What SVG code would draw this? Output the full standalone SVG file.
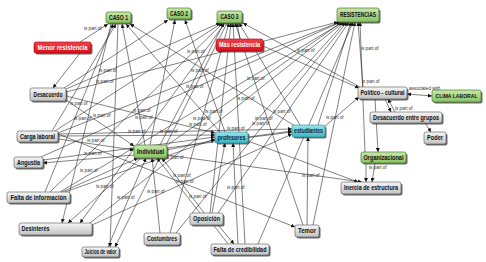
<svg xmlns="http://www.w3.org/2000/svg" width="486" height="262" viewBox="0 0 486 262">
<defs>
<linearGradient id="gGray" x1="0" y1="0" x2="0" y2="1"><stop offset="0" stop-color="#f6f6f6"/><stop offset="1" stop-color="#c2c2c2"/></linearGradient>
<linearGradient id="gGreen" x1="0" y1="0" x2="0" y2="1"><stop offset="0" stop-color="#c8e8ac"/><stop offset="1" stop-color="#86c262"/></linearGradient>
<linearGradient id="gRed" x1="0" y1="0" x2="0" y2="1"><stop offset="0" stop-color="#f2404a"/><stop offset="1" stop-color="#d8101c"/></linearGradient>
<linearGradient id="gCyan" x1="0" y1="0" x2="0" y2="1"><stop offset="0" stop-color="#9ae4ea"/><stop offset="1" stop-color="#3cb6c2"/></linearGradient>
<marker id="a" viewBox="0 0 6 6" refX="6" refY="3" markerWidth="4" markerHeight="4" markerUnits="userSpaceOnUse" orient="auto"><path d="M0,0L6,3L0,6z" fill="#111"/></marker>
<marker id="s" viewBox="0 0 6 6" refX="0" refY="3" markerWidth="4" markerHeight="4" markerUnits="userSpaceOnUse" orient="auto"><path d="M6,0L0,3L6,6z" fill="#111"/></marker>
</defs>
<style>
.e line{stroke:#1a1a1a;stroke-width:0.55;marker-end:url(#a)}
.lbl text{font-family:"Liberation Sans",Arial,sans-serif;font-size:4.6px;fill:#333}
.node .sh{fill:#3a3a3a;opacity:0.75}
.node text{font-family:"Liberation Sans",Arial,sans-serif;font-weight:bold;font-size:6.5px;text-anchor:middle;fill:#111}
.gray .bx{fill:url(#gGray);stroke:#555;stroke-width:0.6}
.green .bx{fill:url(#gGreen);stroke:#4a7a2a;stroke-width:0.7}
.red .bx{fill:url(#gRed);stroke:#a00010;stroke-width:0.6}
.red text{fill:#fff}
.cyan .bx{fill:url(#gCyan);stroke:#2a8a94;stroke-width:0.6}
.cyan text{fill:#0c2a4a}
</style>
<rect width="486" height="262" fill="#fff"/>
<g id="connectors" class="e">
<line x1="66" y1="92" x2="338" y2="22"/>
<line x1="58" y1="133" x2="340" y2="22"/>
<line x1="166" y1="146" x2="342" y2="22"/>
<line x1="60" y1="192" x2="343" y2="22"/>
<line x1="246" y1="132" x2="345" y2="22"/>
<line x1="176" y1="233" x2="347" y2="22"/>
<line x1="218" y1="213" x2="349" y2="22"/>
<line x1="318" y1="125" x2="351" y2="22"/>
<line x1="258" y1="244" x2="353" y2="22"/>
<line x1="313" y1="225" x2="355" y2="22"/>
<line x1="363" y1="87" x2="358" y2="22"/>
<line x1="365" y1="152" x2="360" y2="22"/>
<line x1="41" y1="157" x2="341" y2="22"/>
<line x1="90" y1="223" x2="344" y2="22"/>
<line x1="66" y1="89" x2="220" y2="23"/>
<line x1="55" y1="131" x2="222" y2="23"/>
<line x1="160" y1="145" x2="224" y2="23"/>
<line x1="50" y1="192" x2="223" y2="23"/>
<line x1="225" y1="23" x2="80" y2="223"/>
<line x1="227" y1="23" x2="115" y2="247"/>
<line x1="170" y1="233" x2="229" y2="23"/>
<line x1="210" y1="213" x2="231" y2="23"/>
<line x1="245" y1="244" x2="233" y2="23"/>
<line x1="303" y1="225" x2="235" y2="23"/>
<line x1="240" y1="39" x2="237" y2="23"/>
<line x1="300" y1="125" x2="239" y2="23"/>
<line x1="360" y1="87" x2="243" y2="23"/>
<line x1="80" y1="42" x2="108" y2="24"/>
<line x1="111" y1="24" x2="62" y2="223"/>
<line x1="45" y1="192" x2="113" y2="24"/>
<line x1="52" y1="131" x2="116" y2="24"/>
<line x1="118" y1="24" x2="110" y2="247"/>
<line x1="145" y1="145" x2="122" y2="24"/>
<line x1="220" y1="132" x2="126" y2="24"/>
<line x1="295" y1="126" x2="130" y2="24"/>
<line x1="64" y1="88" x2="168" y2="20"/>
<line x1="150" y1="145" x2="175" y2="20"/>
<line x1="225" y1="132" x2="185" y2="20"/>
<line x1="62" y1="192" x2="138" y2="158"/>
<line x1="141" y1="158" x2="68" y2="223"/>
<line x1="108" y1="247" x2="146" y2="158"/>
<line x1="160" y1="233" x2="152" y2="158"/>
<line x1="200" y1="213" x2="157" y2="158"/>
<line x1="228" y1="244" x2="162" y2="158"/>
<line x1="66" y1="100" x2="134" y2="146"/>
<line x1="58" y1="139" x2="134" y2="150"/>
<line x1="134" y1="155" x2="43" y2="163"/>
<line x1="66" y1="96" x2="215" y2="133"/>
<line x1="58" y1="136" x2="215" y2="135"/>
<line x1="43" y1="160" x2="215" y2="137"/>
<line x1="65" y1="192" x2="215" y2="139"/>
<line x1="238" y1="244" x2="233" y2="143"/>
<line x1="212" y1="213" x2="225" y2="143"/>
<line x1="167" y1="150" x2="215" y2="140"/>
<line x1="167" y1="148" x2="292" y2="132"/>
<line x1="58" y1="134" x2="292" y2="129"/>
<line x1="307" y1="225" x2="308" y2="137"/>
<line x1="248" y1="137" x2="292" y2="131"/>
<line x1="92" y1="225" x2="292" y2="134"/>
<line x1="80" y1="53" x2="53" y2="88"/>
<line x1="218" y1="225" x2="234" y2="244"/>
<line x1="366" y1="163" x2="366" y2="182"/>
<line x1="375" y1="163" x2="372" y2="182"/>
<line x1="248" y1="141" x2="358" y2="182"/>
<line x1="167" y1="155" x2="362" y2="182"/>
<line x1="58" y1="134" x2="295" y2="227"/>
<line x1="375" y1="99" x2="378" y2="152"/>
<line x1="395" y1="112" x2="388" y2="99"/>
<line x1="385" y1="99" x2="391" y2="112"/>
<line x1="425" y1="123" x2="431" y2="132"/>
<line x1="407" y1="94" x2="432" y2="96" style="marker-start:url(#s)"/>
<line x1="324" y1="127" x2="359" y2="97"/>
<line x1="263" y1="46" x2="359" y2="88"/>
</g>
<g id="link-labels" class="lbl">
<text x="84" y="30">is part of</text>
<text x="99" y="72">is part of</text>
<text x="96" y="83">is part of</text>
<text x="187" y="53">is part of</text>
<text x="191" y="72">is part of</text>
<text x="186" y="88">is part of</text>
<text x="247" y="80">is part of</text>
<text x="297" y="52">is part of</text>
<text x="361" y="50">is part of</text>
<text x="362" y="83">is part of</text>
<text x="70" y="105">is part of</text>
<text x="74" y="120">is part of</text>
<text x="93" y="117">is part of</text>
<text x="133" y="112">is part of</text>
<text x="135" y="119">is part of</text>
<text x="128" y="133">is part of</text>
<text x="87" y="142">is part of</text>
<text x="84" y="155">is part of</text>
<text x="237" y="100">is part of</text>
<text x="205" y="113">is part of</text>
<text x="193" y="120">is part of</text>
<text x="189" y="126">is part of</text>
<text x="227" y="130">is part of</text>
<text x="273" y="113">is part of</text>
<text x="255" y="120">is part of</text>
<text x="252" y="125">is part of</text>
<text x="160" y="133">is part of</text>
<text x="166" y="159">is part of</text>
<text x="409" y="90">associated with</text>
<text x="395" y="110">is part of</text>
<text x="326" y="119">is part of</text>
<text x="369" y="169">is part of</text>
<text x="80" y="172">is part of</text>
<text x="96" y="188">is part of</text>
<text x="117" y="199">is part of</text>
<text x="147" y="193">is part of</text>
<text x="173" y="177">is part of</text>
<text x="176" y="183">is part of</text>
<text x="189" y="198">is part of</text>
<text x="227" y="189">is part of</text>
<text x="302" y="177">is part of</text>
</g>
<g id="n-caso1" class="node green"><rect class="sh" x="107.5" y="13.5" width="25" height="11" rx="2"/><rect class="bx" x="106" y="12" width="25" height="11" rx="2"/><text x="118.5" y="19.7" textLength="19" lengthAdjust="spacingAndGlyphs">CASO 1</text></g>
<g id="n-caso2" class="node green"><rect class="sh" x="168.5" y="9.5" width="24" height="11" rx="2"/><rect class="bx" x="167" y="8" width="24" height="11" rx="2"/><text x="179" y="15.7" textLength="18" lengthAdjust="spacingAndGlyphs">CASO 2</text></g>
<g id="n-caso3" class="node green"><rect class="sh" x="218.5" y="12.5" width="25" height="12" rx="2"/><rect class="bx" x="217" y="11" width="25" height="12" rx="2"/><text x="229.5" y="19.2" textLength="18" lengthAdjust="spacingAndGlyphs">CASO 3</text></g>
<g id="n-resistencias" class="node green"><rect class="sh" x="338.5" y="9.5" width="42" height="14" rx="2"/><rect class="bx" x="337" y="8" width="42" height="14" rx="2"/><text x="358" y="17.4" textLength="36" lengthAdjust="spacingAndGlyphs">RESISTENCIAS</text></g>
<g id="n-menor" class="node red"><rect class="sh" x="35.5" y="43.5" width="57" height="11" rx="2"/><rect class="bx" x="34" y="42" width="57" height="11" rx="2"/><text x="62.5" y="49.7" textLength="50" lengthAdjust="spacingAndGlyphs">Menor resistencia</text></g>
<g id="n-mas" class="node red"><rect class="sh" x="217.5" y="40.5" width="47" height="12" rx="2"/><rect class="bx" x="216" y="39" width="47" height="12" rx="2"/><text x="239.5" y="47.2" textLength="41" lengthAdjust="spacingAndGlyphs">Más resistencia</text></g>
<g id="n-desacuerdo" class="node gray"><rect class="sh" x="31.5" y="89.5" width="36" height="13" rx="2"/><rect class="bx" x="30" y="88" width="36" height="13" rx="2"/><text x="48" y="96.7" textLength="29" lengthAdjust="spacingAndGlyphs">Desacuerdo</text></g>
<g id="n-carga" class="node gray"><rect class="sh" x="18.5" y="132.5" width="41" height="11" rx="2"/><rect class="bx" x="17" y="131" width="41" height="11" rx="2"/><text x="37.5" y="138.7" textLength="35" lengthAdjust="spacingAndGlyphs">Carga laboral</text></g>
<g id="n-angustia" class="node gray"><rect class="sh" x="15.5" y="158.5" width="29" height="11" rx="2"/><rect class="bx" x="14" y="157" width="29" height="11" rx="2"/><text x="28.5" y="164.7" textLength="23" lengthAdjust="spacingAndGlyphs">Angustia</text></g>
<g id="n-individual" class="node green"><rect class="sh" x="135.5" y="146.5" width="33" height="13" rx="2"/><rect class="bx" x="134" y="145" width="33" height="13" rx="2"/><text x="150.5" y="153.7" textLength="27" lengthAdjust="spacingAndGlyphs">Individual</text></g>
<g id="n-profesores" class="node cyan"><rect class="sh" x="216.5" y="133.5" width="33" height="11" rx="2"/><rect class="bx" x="215" y="132" width="33" height="11" rx="2"/><text x="231.5" y="139.7" textLength="28" lengthAdjust="spacingAndGlyphs">profesores</text></g>
<g id="n-estudiantes" class="node cyan"><rect class="sh" x="293.5" y="126.5" width="33" height="12" rx="2"/><rect class="bx" x="292" y="125" width="33" height="12" rx="2"/><text x="308.5" y="133.2" textLength="29" lengthAdjust="spacingAndGlyphs">estudiantes</text></g>
<g id="n-politico" class="node gray"><rect class="sh" x="359.5" y="88.5" width="49" height="12" rx="2"/><rect class="bx" x="358" y="87" width="49" height="12" rx="2"/><text x="382.5" y="95.2" textLength="44" lengthAdjust="spacingAndGlyphs">Político - cultural</text></g>
<g id="n-clima" class="node green"><rect class="sh" x="433.5" y="91.5" width="49" height="12" rx="2"/><rect class="bx" x="432" y="90" width="49" height="12" rx="2"/><text x="456.5" y="98.1" style="font-size:5.8px" textLength="42" lengthAdjust="spacingAndGlyphs">CLIMA LABORAL</text></g>
<g id="n-desgrupos" class="node gray"><rect class="sh" x="371.5" y="113.5" width="72" height="11" rx="2"/><rect class="bx" x="370" y="112" width="72" height="11" rx="2"/><text x="406" y="119.7" textLength="66" lengthAdjust="spacingAndGlyphs">Desacuerdo entre grupos</text></g>
<g id="n-poder" class="node gray"><rect class="sh" x="425.5" y="133.5" width="22" height="12" rx="2"/><rect class="bx" x="424" y="132" width="22" height="12" rx="2"/><text x="435" y="140.2" textLength="16" lengthAdjust="spacingAndGlyphs">Poder</text></g>
<g id="n-organizacional" class="node green"><rect class="sh" x="362.5" y="153.5" width="45" height="11" rx="2"/><rect class="bx" x="361" y="152" width="45" height="11" rx="2"/><text x="383.5" y="159.7" textLength="40" lengthAdjust="spacingAndGlyphs">Organizacional</text></g>
<g id="n-inercia" class="node gray"><rect class="sh" x="342.5" y="183.5" width="60" height="12" rx="2"/><rect class="bx" x="341" y="182" width="60" height="12" rx="2"/><text x="371" y="190.2" textLength="54" lengthAdjust="spacingAndGlyphs">Inercia de estructura</text></g>
<g id="n-faltainfo" class="node gray"><rect class="sh" x="8.5" y="193.5" width="63" height="11" rx="2"/><rect class="bx" x="7" y="192" width="63" height="11" rx="2"/><text x="38.5" y="199.7" textLength="56" lengthAdjust="spacingAndGlyphs">Falta de información</text></g>
<g id="n-desinteres" class="node gray"><rect class="sh" x="20.5" y="224.5" width="73" height="12" rx="2"/><rect class="bx" x="19" y="223" width="73" height="12" rx="2"/><text x="21.5" y="231.2" style="text-anchor:start" textLength="28" lengthAdjust="spacingAndGlyphs">Desinterés</text></g>
<g id="n-juicios" class="node gray"><rect class="sh" x="83.5" y="248.5" width="37" height="10" rx="2"/><rect class="bx" x="82" y="247" width="37" height="10" rx="2"/><text x="100.5" y="254.3" textLength="32" lengthAdjust="spacingAndGlyphs">Juicios de valor</text></g>
<g id="n-costumbres" class="node gray"><rect class="sh" x="145.5" y="234.5" width="36" height="12" rx="2"/><rect class="bx" x="144" y="233" width="36" height="12" rx="2"/><text x="162" y="241.2" textLength="30" lengthAdjust="spacingAndGlyphs">Costumbres</text></g>
<g id="n-oposicion" class="node gray"><rect class="sh" x="191.5" y="214.5" width="33" height="12" rx="2"/><rect class="bx" x="190" y="213" width="33" height="12" rx="2"/><text x="206.5" y="221.2" textLength="27" lengthAdjust="spacingAndGlyphs">Oposición</text></g>
<g id="n-faltacred" class="node gray"><rect class="sh" x="212.5" y="245.5" width="58" height="11" rx="2"/><rect class="bx" x="211" y="244" width="58" height="11" rx="2"/><text x="240" y="251.7" textLength="53" lengthAdjust="spacingAndGlyphs">Falta de credibilidad</text></g>
<g id="n-temor" class="node gray"><rect class="sh" x="296.5" y="226.5" width="24" height="12" rx="2"/><rect class="bx" x="295" y="225" width="24" height="12" rx="2"/><text x="307" y="233.2" textLength="18" lengthAdjust="spacingAndGlyphs">Temor</text></g>
</svg>
